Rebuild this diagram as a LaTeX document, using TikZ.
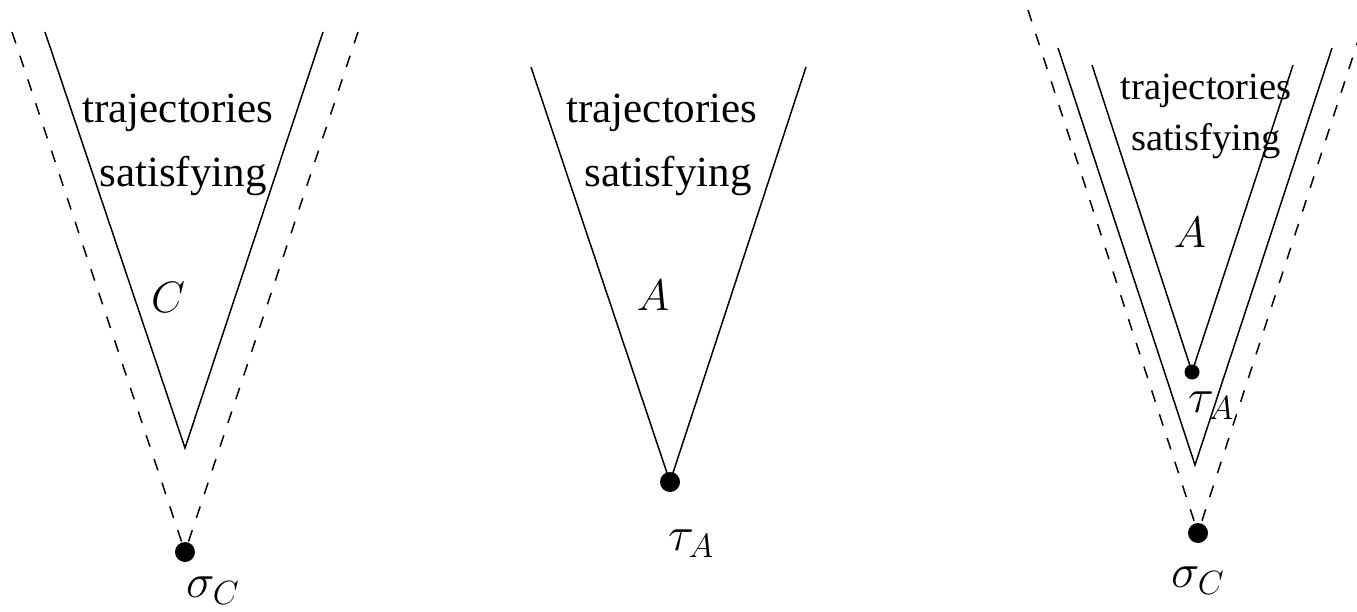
\RequirePackage{fix-cm}
\documentclass[tikz,border=0pt]{standalone}
\usepackage{fontspec}
\setmainfont{Liberation Serif}
\begin{document}
\begin{tikzpicture}[x=1pt,y=-1pt,
  solidline/.style={line width=1.5pt},
  dashline/.style={line width=1.5pt, dash pattern=on 12pt off 13pt},
  bigdot/.style={circle, fill=black, inner sep=0pt, minimum size=20pt},
  smalldot/.style={circle, fill=black, inner sep=0pt, minimum size=15pt},
  txt/.style={inner sep=0pt, anchor=base, font=\fontsize{43}{50}\selectfont},
  txtsmall/.style={inner sep=0pt, anchor=base, font=\fontsize{38.5}{45}\selectfont},
  mlbl/.style={inner sep=0pt, font=\fontsize{44}{54}\selectfont},
  sublbl/.style={inner sep=0pt, anchor=base west, font=\fontsize{48}{56}\selectfont}]
\useasboundingbox (0,0) rectangle (1357,612);
\clip (0,0) rectangle (1357,612);

% ---------- left figure ----------
\coordinate (Lsl) at (45,32);
\coordinate (Lsr) at (323,32);
\coordinate (Lv) at (185,448);
\coordinate (Ldl) at (12,32);
\coordinate (Ldr) at (358,32);
\coordinate (Ldot) at (185,552);
\draw[solidline] (Lsl) -- (Lv) -- (Lsr);
\draw[dashline] (Ldl) -- (Ldot);
\draw[dashline] (Ldr) -- (Ldot);
\node[bigdot] (LdotN) at (Ldot) {};
\node[txt] (Lt1) at (178,123) {trajectories};
\node[txt] (Lt2) at (183,187) {satisfying};
\node[mlbl] (LC) at (168,297) {$C$};
\node[sublbl] (Lsig) at (186,597) {$\sigma_C$};

% ---------- middle figure ----------
\coordinate (Ml) at (531,67);
\coordinate (Mr) at (806,67);
\coordinate (Mdot) at (670,482);
\draw[solidline] (Ml) -- (Mdot) -- (Mr);
\node[bigdot] (MdotN) at (Mdot) {};
\node[txt] (Mt1) at (662,123) {trajectories};
\node[txt] (Mt2) at (668,187) {satisfying};
\node[mlbl] (MA) at (653,295) {$A$};
\node[sublbl] (Mtau) at (668,550) {$\tau_A$};

% ---------- right figure ----------
\coordinate (Ril) at (1092,65);
\coordinate (Rir) at (1293,65);
\coordinate (Ridot) at (1192,372);
\coordinate (Rol) at (1058,48);
\coordinate (Ror) at (1332,48);
\coordinate (Rv) at (1195,465);
\coordinate (Rdl) at (1028,10);
\coordinate (Rdr) at (1368,10);
\coordinate (Rdot) at (1198,533);
\draw[solidline] (Rol) -- (Rv) -- (Ror);
\draw[dashline] (Rdl) -- (Rdot);
\draw[dashline] (Rdr) -- (Rdot);
\node[txtsmall] (Rt1) at (1206,100) {trajectories};
\node[txtsmall] (Rt2) at (1206,151) {satisfying};
\draw[solidline] (Ril) -- (Ridot) -- (Rir);
\node[smalldot] (RidotN) at (Ridot) {};
\node[bigdot] (RdotN) at (Rdot) {};
\node[mlbl] (RA) at (1190,232) {$A$};
\node[sublbl] (Rtau) at (1188,412) {$\tau_A$};
\node[sublbl] (Rsig) at (1171,587) {$\sigma_C$};
\end{tikzpicture}
\end{document}
